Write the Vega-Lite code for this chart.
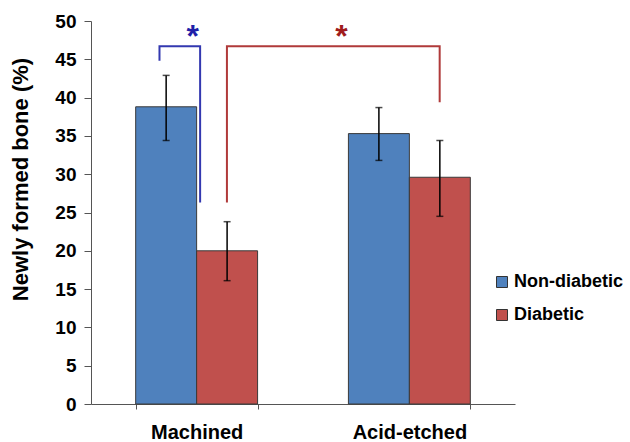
{
  "$schema": "https://vega.github.io/schema/vega-lite/v6.json",
  "width": 424,
  "height": 383,
  "autosize": {"type": "none"},
  "padding": {"left": 91, "top": 21, "right": 115, "bottom": 38},
  "background": "white",
  "config": {
    "view": {"stroke": null},
    "font": "Liberation Sans",
    "axisY": {
      "labelOverlap": false, "titleFontSize": 22, "titleFontWeight": "bold",
      "titleColor": "black", "titlePadding": 22,
      "labelFontSize": 19, "labelFontWeight": "bold", "labelColor": "black", "labelPadding": 8,
      "tickSize": 7, "tickColor": "#555", "domainColor": "#555", "grid": false
    }
  },
  "resolve": {"scale": {"xOffset": "independent"}},
  "datasets": {
    "bars": [
      {"surface": "Machined", "group": "Non-diabetic", "value": 38.8, "lo": 34.4, "hi": 42.9},
      {"surface": "Machined", "group": "Diabetic", "value": 20.0, "lo": 16.1, "hi": 23.8},
      {"surface": "Acid-etched", "group": "Non-diabetic", "value": 35.3, "lo": 31.8, "hi": 38.7},
      {"surface": "Acid-etched", "group": "Diabetic", "value": 29.6, "lo": 24.5, "hi": 34.4}
    ],
    "brackets": [
      {"pair": "within", "surface": "Machined", "group": "Non-diabetic", "y": 44.8, "step": 1},
      {"pair": "within", "surface": "Machined", "group": "Non-diabetic", "y": 46.7, "step": 2},
      {"pair": "within", "surface": "Machined", "group": "Diabetic", "y": 46.7, "step": 3},
      {"pair": "within", "surface": "Machined", "group": "Diabetic", "y": 26.3, "step": 4},
      {"pair": "between", "surface": "Machined", "group": "Diabetic", "y": 26.3, "step": 1},
      {"pair": "between", "surface": "Machined", "group": "Diabetic", "y": 46.7, "step": 2},
      {"pair": "between", "surface": "Acid-etched", "group": "Diabetic", "y": 46.7, "step": 3},
      {"pair": "between", "surface": "Acid-etched", "group": "Diabetic", "y": 39.4, "step": 4}
    ],
    "stars": [
      {"pair": "within", "surface": "Machined", "y": 47.9, "label": "*"},
      {"pair": "between", "surface": "Acid-etched", "y": 47.9, "label": "*"}
    ]
  },
  "layer": [
    {
      "data": {"name": "bars"},
      "mark": {"type": "bar", "stroke": "#3a3a3a", "strokeWidth": 1},
      "encoding": {
        "x": {
          "field": "surface", "type": "nominal", "sort": ["Machined", "Acid-etched"],
          "scale": {"paddingInner": 0.427, "paddingOuter": 0.21},
          "axis": {
            "title": null, "labelAngle": 0, "labelFontSize": 20, "labelFontWeight": "bold",
            "labelColor": "black", "labelPadding": 13, "tickBand": "extent", "tickSize": 5,
            "tickColor": "#555", "domainColor": "#555", "grid": false
          }
        },
        "xOffset": {"field": "group", "type": "nominal", "sort": ["Non-diabetic", "Diabetic"]},
        "y": {
          "field": "value", "type": "quantitative",
          "scale": {"domain": [0, 50], "nice": false},
          "axis": {"values": [0, 5, 10, 15, 20, 25, 30, 35, 40, 45, 50], "title": "Newly formed bone (%)", "titleY": 158}
        },
        "color": {
          "field": "group", "type": "nominal",
          "scale": {"domain": ["Non-diabetic", "Diabetic"], "range": ["#4F81BD", "#C0504D"]},
          "legend": {
            "orient": "none", "legendX": 402, "legendY": 252, "title": null,
            "symbolType": "square", "symbolSize": 121, "symbolStrokeColor": "#333", "symbolStrokeWidth": 1,
            "labelFontSize": 18, "labelFontWeight": "bold", "labelColor": "black",
            "rowPadding": 15, "labelOffset": 3, "padding": 0
          }
        }
      }
    },
    {
      "data": {"name": "bars"},
      "mark": {"type": "rule", "color": "black", "strokeWidth": 1.5},
      "encoding": {
        "x": {"field": "surface", "type": "nominal", "sort": ["Machined", "Acid-etched"]},
        "xOffset": {"field": "group", "type": "nominal", "sort": ["Non-diabetic", "Diabetic"]},
        "y": {"field": "lo", "type": "quantitative", "axis": {"values": [0, 5, 10, 15, 20, 25, 30, 35, 40, 45, 50], "title": "Newly formed bone (%)", "titleY": 158}},
        "y2": {"field": "hi"}
      }
    },
    {
      "data": {"name": "bars"},
      "mark": {"type": "tick", "color": "black", "thickness": 1.5, "size": 7},
      "encoding": {
        "x": {"field": "surface", "type": "nominal", "sort": ["Machined", "Acid-etched"]},
        "xOffset": {"field": "group", "type": "nominal", "sort": ["Non-diabetic", "Diabetic"]},
        "y": {"field": "hi", "type": "quantitative", "axis": {"values": [0, 5, 10, 15, 20, 25, 30, 35, 40, 45, 50], "title": "Newly formed bone (%)", "titleY": 158}}
      }
    },
    {
      "data": {"name": "bars"},
      "mark": {"type": "tick", "color": "black", "thickness": 1.5, "size": 7},
      "encoding": {
        "x": {"field": "surface", "type": "nominal", "sort": ["Machined", "Acid-etched"]},
        "xOffset": {"field": "group", "type": "nominal", "sort": ["Non-diabetic", "Diabetic"]},
        "y": {"field": "lo", "type": "quantitative", "axis": {"values": [0, 5, 10, 15, 20, 25, 30, 35, 40, 45, 50], "title": "Newly formed bone (%)", "titleY": 158}}
      }
    },
    {
      "data": {"name": "brackets"},
      "transform": [{"filter": "datum.pair === 'within'"}],
      "mark": {"type": "line", "color": "#3338B0", "strokeWidth": 2},
      "encoding": {
        "x": {"field": "surface", "type": "nominal", "sort": ["Machined", "Acid-etched"]},
        "xOffset": {"field": "group", "type": "nominal", "scale": {"domain": ["Non-diabetic", "Diabetic"], "paddingInner": 0, "paddingOuter": 1.01, "align": 0.293}},
        "y": {"field": "y", "type": "quantitative", "axis": {"values": [0, 5, 10, 15, 20, 25, 30, 35, 40, 45, 50], "title": "Newly formed bone (%)", "titleY": 158}},
        "order": {"field": "step", "type": "quantitative"}
      }
    },
    {
      "data": {"name": "brackets"},
      "transform": [{"filter": "datum.pair === 'between'"}],
      "mark": {"type": "line", "color": "#B03A3A", "strokeWidth": 2},
      "encoding": {
        "x": {"field": "surface", "type": "nominal", "sort": ["Machined", "Acid-etched"]},
        "xOffset": {"field": "group", "type": "nominal", "scale": {"domain": ["Non-diabetic", "Diabetic"], "paddingInner": 0, "paddingOuter": 0.2, "align": 0.12}},
        "y": {"field": "y", "type": "quantitative", "axis": {"values": [0, 5, 10, 15, 20, 25, 30, 35, 40, 45, 50], "title": "Newly formed bone (%)", "titleY": 158}},
        "order": {"field": "step", "type": "quantitative"}
      }
    },
    {
      "data": {"name": "stars"},
      "transform": [{"filter": "datum.pair === 'within'"}],
      "mark": {"type": "text", "color": "#1F1FA8", "fontSize": 32, "fontWeight": "bold", "baseline": "middle", "dx": -4},
      "encoding": {
        "x": {"field": "surface", "type": "nominal", "sort": ["Machined", "Acid-etched"]},
        "y": {"field": "y", "type": "quantitative", "axis": {"values": [0, 5, 10, 15, 20, 25, 30, 35, 40, 45, 50], "title": "Newly formed bone (%)", "titleY": 158}},
        "text": {"field": "label"}
      }
    },
    {
      "data": {"name": "stars"},
      "transform": [{"filter": "datum.pair === 'between'"}],
      "mark": {"type": "text", "color": "#A01C1C", "fontSize": 32, "fontWeight": "bold", "baseline": "middle", "dx": -7},
      "encoding": {
        "x": {"field": "surface", "type": "nominal", "sort": ["Machined", "Acid-etched"], "bandPosition": 0},
        "y": {"field": "y", "type": "quantitative", "axis": {"values": [0, 5, 10, 15, 20, 25, 30, 35, 40, 45, 50], "title": "Newly formed bone (%)", "titleY": 158}},
        "text": {"field": "label"}
      }
    }
  ]
}
